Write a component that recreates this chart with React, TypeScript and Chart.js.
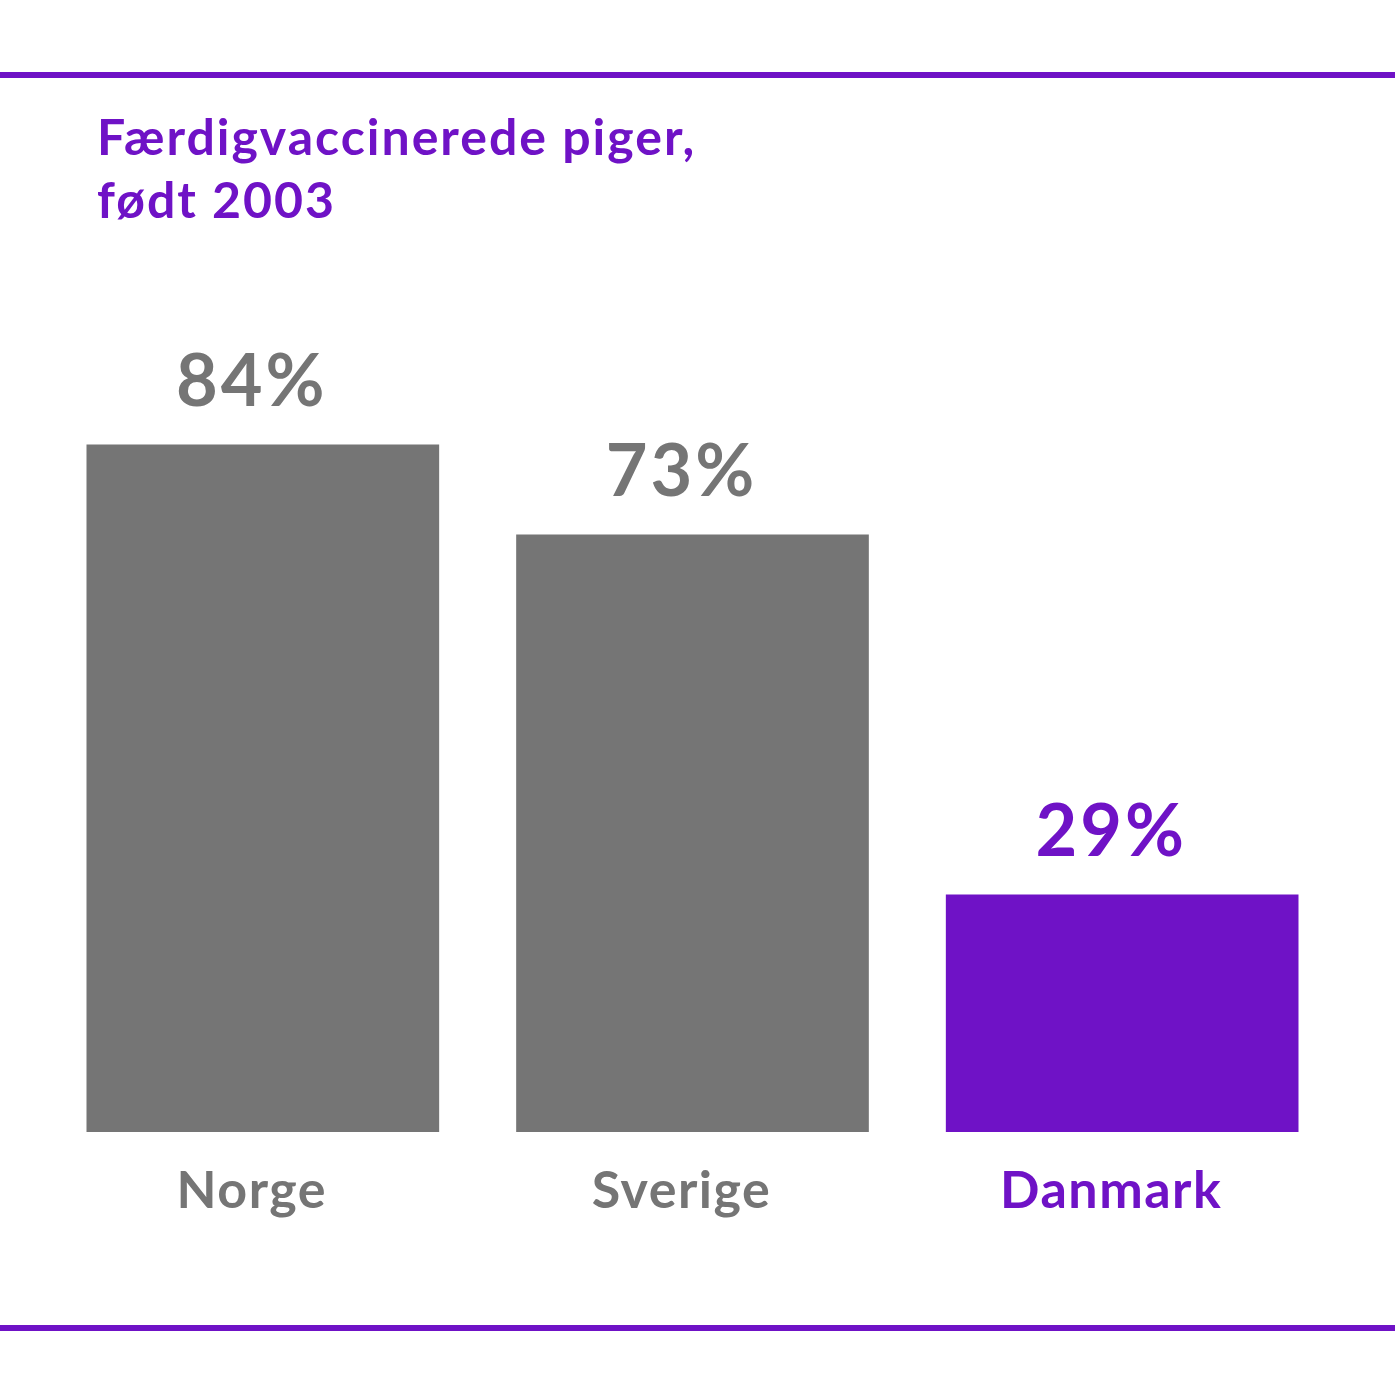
import React, { useEffect, useRef } from "react";
import { Chart, registerables } from "chart.js";

Chart.register(...registerables);

const categories = ["Norge", "Sverige", "Danmark"];
const values = [84, 73, 29];
const valueLabels = ["84%", "73%", "29%"];
const titleLines = ["Færdigvaccinerede piger,", "født 2003"];

const PURPLE = "#6f12c6";
const GRAY = "#757575";
const barColors = [GRAY, GRAY, PURPLE];
const FONT = "Lato";

const decorPlugin = {
  id: "decor",
  afterDatasetsDraw(chart: any) {
    const { ctx } = chart;
    const W = chart.width;
    ctx.save();
    // rules
    ctx.fillStyle = PURPLE;
    ctx.fillRect(0, 72, W, 6);
    ctx.fillRect(0, 1325, W, 6);
    // title
    ctx.fillStyle = PURPLE;
    ctx.font = `bold 50px ${FONT}`;
    (ctx as any).letterSpacing = "2px";
    ctx.textAlign = "left";
    ctx.textBaseline = "alphabetic";
    ctx.fillText(titleLines[0], 97, 155);
    ctx.fillText(titleLines[1], 97, 218);
    // value and category labels
    const meta = chart.getDatasetMeta(0);
    const x = chart.scales.x;
    meta.data.forEach((bar: any, i: number) => {
      const cx = x.getPixelForValue(i) - 11;
      ctx.fillStyle = barColors[i];
      ctx.textAlign = "center";
      ctx.font = `bold 72px ${FONT}`;
      (ctx as any).letterSpacing = "3px";
      ctx.fillText(valueLabels[i], cx, bar.y - 39);
      ctx.font = `bold 52px ${FONT}`;
      (ctx as any).letterSpacing = "1.5px";
      ctx.fillText(categories[i], cx, 1208);
    });
    ctx.restore();
  },
};

export default function App() {
  const ref = useRef<HTMLCanvasElement>(null);
  useEffect(() => {
    if (!ref.current) return;
    const chart = new Chart(ref.current, {
      type: "bar",
      data: {
        labels: categories,
        datasets: [
          {
            data: values,
            backgroundColor: barColors,
            borderWidth: 0,
            barThickness: 352,
          },
        ],
      },
      options: {
        responsive: false,
        animation: false,
        layout: { padding: { left: 48, right: 58, top: 314, bottom: 263 } },
        plugins: {
          legend: { display: false },
          title: { display: false },
          tooltip: { enabled: false },
        },
        scales: {
          x: { display: false },
          y: { display: false, min: 0, max: 100 },
        },
      },
      plugins: [decorPlugin],
    });
    return () => chart.destroy();
  }, []);
  return (
    <div style={{ position: "absolute", left: 0, top: 0, width: 1395, height: 1395, background: "#fff" }}>
      <canvas ref={ref} width={1395} height={1395} />
    </div>
  );
}
